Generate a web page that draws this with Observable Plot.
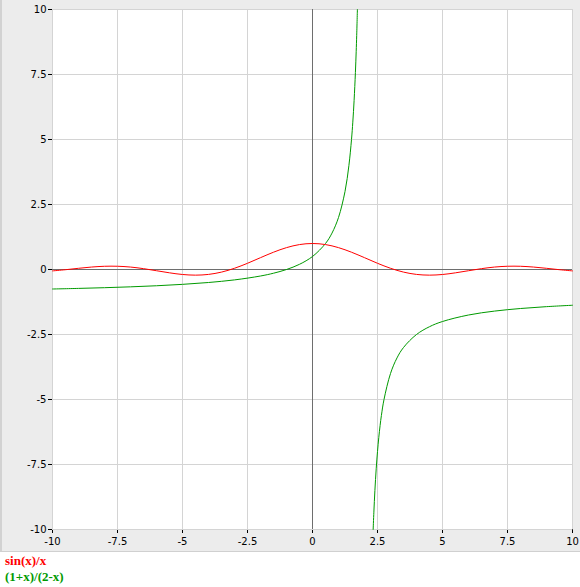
<!DOCTYPE html>
<html>
<head>
<meta charset="utf-8">
<script src="https://cdn.jsdelivr.net/npm/d3@7"></script>
<script src="https://cdn.jsdelivr.net/npm/@observablehq/plot@0.6"></script>
<style>
  html, body { margin: 0; padding: 0; background: white; }
  #chart svg { display: block; border-left: 2px solid #d2d2d2; border-bottom: 1px solid #d0d0d0; }
  #legend { font-family: "Liberation Serif", "Times New Roman", serif; font-weight: bold; font-size: 13px; line-height: 16px; padding: 1px 0 0 5px; }
</style>
</head>
<body>
<div id="chart"></div>
<div id="legend"></div>
<script>
const seriesNames = ["sin(x)/x", "(1+x)/(2-x)"];
const seriesColors = ["#ff0000", "#009a00"];
const xTicks = [-10, -7.5, -5, -2.5, 0, 2.5, 5, 7.5, 10];
const yTicks = [-10, -7.5, -5, -2.5, 0, 2.5, 5, 7.5, 10];

// sin(x)/x read at x = -10 .. 10 step 0.5
const sincX = [-10,-9.5,-9,-8.5,-8,-7.5,-7,-6.5,-6,-5.5,-5,-4.5,-4,-3.5,-3,-2.5,-2,-1.5,-1,-0.5,0,0.5,1,1.5,2,2.5,3,3.5,4,4.5,5,5.5,6,6.5,7,7.5,8,8.5,9,9.5,10];
const sincY = [-0.054,-0.008,0.046,0.094,0.124,0.125,0.094,0.033,-0.047,-0.128,-0.192,-0.217,-0.189,-0.100,0.047,0.239,0.455,0.665,0.841,0.959,1,0.959,0.841,0.665,0.455,0.239,0.047,-0.100,-0.189,-0.217,-0.192,-0.128,-0.047,0.033,0.094,0.125,0.124,0.094,0.046,-0.008,-0.054];

// (1+x)/(2-x), left branch
const ratioLeftX = [-10,-9,-8,-7,-6,-5,-4,-3,-2,-1.5,-1,-0.5,0,0.5,0.75,1,1.25,1.4,1.5,1.55,1.6,1.65,1.68,1.7,1.727];
const ratioLeftY = [-0.75,-0.727,-0.7,-0.667,-0.625,-0.571,-0.5,-0.4,-0.25,-0.143,0,0.2,0.5,1,1.4,2,3,4,5,5.667,6.5,7.571,8.375,9,10];
// (1+x)/(2-x), right branch
const ratioRightX = [2.333,2.36,2.4,2.45,2.5,2.55,2.6,2.65,2.75,3,3.25,3.5,4,4.5,5,6,7,8,9,10];
const ratioRightY = [-10,-9.333,-8.5,-7.667,-7,-6.455,-6,-5.615,-5,-4,-3.4,-3,-2.5,-2.2,-2,-1.75,-1.6,-1.5,-1.429,-1.375];

const sincRows = sincX.map((x, i) => ({x, y: sincY[i]}));
const ratioRows = [
  ...ratioLeftX.map((x, i) => ({x, y: ratioLeftY[i], b: "L"})),
  ...ratioRightX.map((x, i) => ({x, y: ratioRightY[i], b: "R"}))
];

const fmt = d => String(d);

const chart = Plot.plot({
  width: 578,
  height: 551,
  marginLeft: 50,
  marginRight: 8,
  marginTop: 9,
  marginBottom: 22,
  style: {fontFamily: "DejaVu Sans, Verdana, sans-serif", fontSize: "10px", color: "#000", background: "#ececec"},
  x: {domain: [-10, 10], ticks: xTicks, tickFormat: fmt, tickSize: 4, tickPadding: 4, label: null},
  y: {domain: [-10, 10], ticks: yTicks, tickFormat: fmt, tickSize: 4, tickPadding: 2, label: null},
  marks: [
    Plot.frame({fill: "white", stroke: null}),
    Plot.ruleX(xTicks, {stroke: "#d4d4d4", strokeOpacity: 1}),
    Plot.ruleY(yTicks, {stroke: "#d4d4d4", strokeOpacity: 1}),
    Plot.ruleX([0], {stroke: "#6e6e6e"}),
    Plot.ruleY([0], {stroke: "#6e6e6e"}),
    Plot.line(ratioRows, {x: "x", y: "y", z: "b", stroke: seriesColors[1], strokeWidth: 1, curve: "catmull-rom"}),
    Plot.line(sincRows, {x: "x", y: "y", stroke: seriesColors[0], strokeWidth: 1, curve: "catmull-rom"})
  ]
});
document.getElementById("chart").appendChild(chart);

const legend = document.getElementById("legend");
seriesNames.forEach((n, i) => {
  const d = document.createElement("div");
  d.textContent = n;
  d.style.color = seriesColors[i];
  legend.appendChild(d);
});
</script>
</body>
</html>
